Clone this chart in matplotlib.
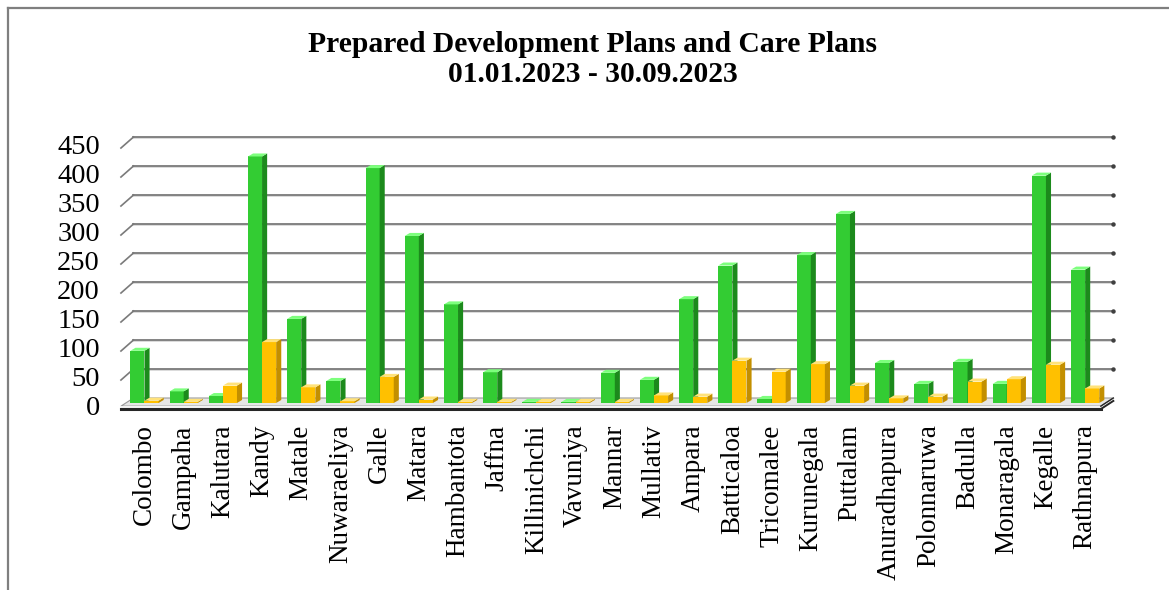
import matplotlib
matplotlib.use("Agg")
import matplotlib.pyplot as plt
from matplotlib.patches import Polygon, Rectangle
from matplotlib.lines import Line2D

plt.rcParams["font.family"] = ["Liberation Serif", "DejaVu Serif"]

districts = [
    "Colombo", "Gampaha", "Kalutara", "Kandy", "Matale", "Nuwaraeliya", "Galle",
    "Matara", "Hambantota", "Jaffna", "Killinichchi", "Vavuniya", "Mannar",
    "Mullativ", "Ampara", "Batticaloa", "Tricomalee", "Kurunegala", "Puttalam",
    "Anuradhapura", "Polonnaruwa", "Badulla", "Monaragala", "Kegalle", "Rathnapura",
]
development_plans = [90, 20, 12, 425, 145, 38, 405, 288, 170, 53, 2, 2, 52,
                     40, 179, 237, 7, 255, 326, 69, 33, 71, 33, 392, 230]
care_plans = [4, 2, 30, 105, 27, 3, 45, 6, 2, 2, 2, 2, 2,
              13, 11, 73, 54, 67, 30, 8, 11, 37, 41, 66, 25]
y_ticks = [0, 50, 100, 150, 200, 250, 300, 350, 400, 450]

GREEN = ("#33cc33", "#1c8a1c", "#7dff7d")    # front, side, top
YELLOW = ("#ffc000", "#c38f00", "#ffe27a")
GRID = "#7a7a7a"

BAR_W = 0.36          # width of one bar front face (category units)
DX, DY = 0.13, 5.2    # depth of a bar (category units, value units)
BACK = (0.16, 8.6)    # back wall offset from the bar plane
FRONT = (-0.16, -10.4)
X_LEFT, X_RIGHT = -0.44, 24.56

fig = plt.figure(figsize=(11.69, 5.90), dpi=100)
ax = fig.add_axes([0, 0, 1, 1])
ax.set_xlim(-3.686, 26.14)
ax.set_ylim(-322.4, 694.8)
ax.axis("off")

# back wall gridlines with a soft shadow, plus the slanted ticks on the left wall
for g in y_ticks:
    yb = g + BACK[1]
    xb0, xb1 = X_LEFT + BACK[0], X_RIGHT + BACK[0]
    if g > 0:
        ax.plot([xb0, xb1], [yb - 1.6, yb - 1.6], color="#d4d4d4", lw=1.2, zorder=1)
        ax.plot([xb0, xb1], [yb, yb], color=GRID, lw=1.3, zorder=2)
        ax.plot([xb1], [yb], marker="o", ms=2.2, color="#404040", zorder=2)
    ax.plot([X_LEFT + FRONT[0], xb0], [g + FRONT[1], yb], color=GRID, lw=1.2, zorder=2)
    ax.text(-1.135, g - 9, str(g), ha="right", va="center", fontsize=20.5)

# floor slab
fl = [X_LEFT + FRONT[0], X_RIGHT + FRONT[0]]
floor_top = Polygon([(fl[0], FRONT[1] + 5), (fl[1], FRONT[1] + 5),
                     (X_RIGHT + BACK[0], BACK[1]), (X_LEFT + BACK[0], BACK[1])],
                    closed=True, facecolor="#e6e6e6", edgecolor="#9a9a9a", lw=0.8, zorder=3)
ax.add_patch(floor_top)
ax.add_patch(Rectangle((fl[0], FRONT[1]), fl[1] - fl[0], 5,
                       facecolor="#f4f4f4", edgecolor="none", zorder=3))
ax.plot(fl, [FRONT[1], FRONT[1]], color="#262626", lw=2.2, zorder=4)
ax.plot([fl[1], X_RIGHT + BACK[0]], [FRONT[1], BACK[1] - 5], color="#262626", lw=1.4, zorder=4)
ax.plot([fl[1], X_RIGHT + BACK[0]], [FRONT[1] + 5, BACK[1]], color="#262626", lw=1.0, zorder=4)


def draw_bar(x0, v, colors, z):
    front, side, top = colors
    ax.add_patch(Rectangle((x0, 0), BAR_W, v, facecolor=front, edgecolor="none", zorder=z))
    ax.add_patch(Polygon([(x0 + BAR_W, 0), (x0 + BAR_W + DX, DY),
                          (x0 + BAR_W + DX, v + DY), (x0 + BAR_W, v)],
                         closed=True, facecolor=side, edgecolor="none", zorder=z))
    ax.add_patch(Polygon([(x0, v), (x0 + BAR_W, v), (x0 + BAR_W + DX, v + DY), (x0 + DX, v + DY)],
                         closed=True, facecolor=top, edgecolor="none", zorder=z))


for i, name in enumerate(districts):
    draw_bar(i - BAR_W, development_plans[i], GREEN, 5 + 2 * i)
    draw_bar(i, care_plans[i], YELLOW, 6 + 2 * i)
    ax.text(i, -37, name, rotation=90, ha="center", va="top", fontsize=19.5)

fig.text(0.507, 0.924, "Prepared Development Plans and Care Plans",
         ha="center", va="center", fontsize=21.3, fontweight="bold")
fig.text(0.507, 0.874, "01.01.2023 - 30.09.2023",
         ha="center", va="center", fontsize=21.3, fontweight="bold")

# chart border (left and top edges)
fig.add_artist(Line2D([8 / 1169, 8 / 1169], [0, 1 - 8 / 590], color="#7f7f7f", lw=1.6))
fig.add_artist(Line2D([8 / 1169, 1], [1 - 8 / 590, 1 - 8 / 590], color="#7f7f7f", lw=1.6))

fig.savefig("out.png", dpi=100, facecolor="white")
